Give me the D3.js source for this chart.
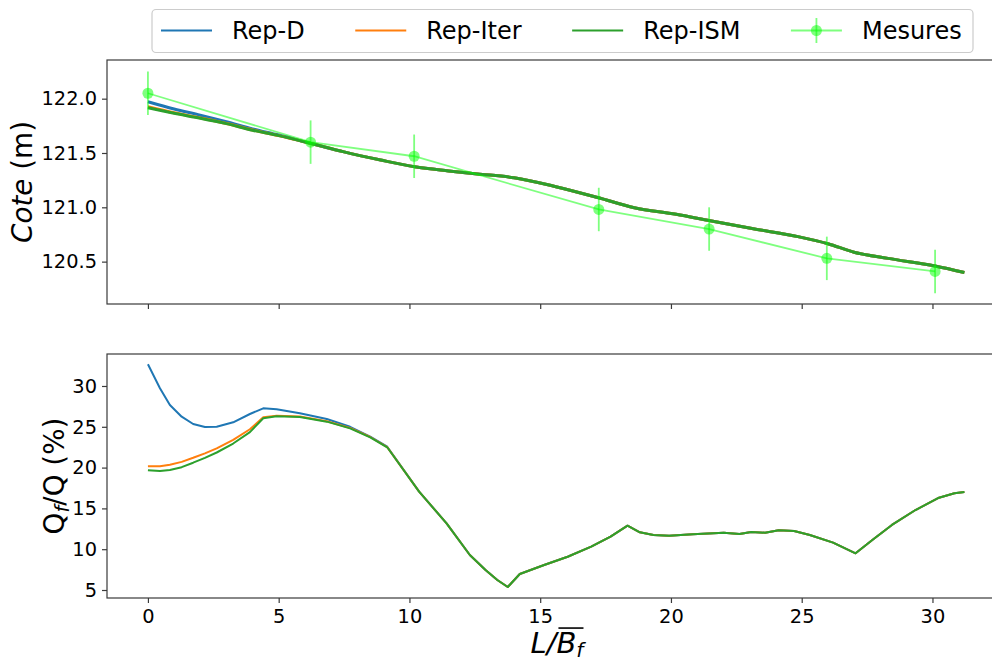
<!DOCTYPE html>
<html>
<head>
<meta charset="utf-8">
<title>Cote et Qf/Q</title>
<style>
  body { margin: 0; background: #fff; }
  svg { display: block; font-family: "DejaVu Sans", sans-serif; }
</style>
</head>
<body>
<svg width="992" height="662"></svg>
<script src="https://d3js.org/d3.v7.min.js"></script>
<script>

// mesures (cote + barre d'erreur)
mesX = [0, 6.22, 10.18, 17.24, 21.46, 25.96, 30.1]
mesCote = [122.05, 121.60, 121.47, 120.98, 120.80, 120.53, 120.41]
mesErr = [0.2, 0.2, 0.2, 0.2, 0.2, 0.2, 0.2]

// cote des modeles
xCote = [0, 1, 2, 3, 4, 5, 6.2, 7.5, 8.9, 10.2, 11.5, 12.6, 14, 15.6, 17.2, 18.6, 20.2, 21.5, 23.1, 24.9, 26, 27, 28.3, 30.1, 31.22]
coteD = [121.972, 121.905, 121.848, 121.787, 121.722, 121.665, 121.59, 121.51, 121.435, 121.373, 121.335, 121.307, 121.272, 121.19, 121.09, 120.996, 120.936, 120.876, 120.805, 120.728, 120.665, 120.587, 120.53, 120.46, 120.40]
coteIter = [121.925, 121.87, 121.823, 121.772, 121.712, 121.66, 121.59, 121.51, 121.435, 121.373, 121.335, 121.307, 121.272, 121.19, 121.09, 120.996, 120.936, 120.876, 120.805, 120.728, 120.665, 120.587, 120.53, 120.46, 120.40]
coteISM = [121.917, 121.865, 121.82, 121.77, 121.71, 121.66, 121.59, 121.51, 121.435, 121.373, 121.335, 121.307, 121.272, 121.19, 121.09, 120.996, 120.936, 120.876, 120.805, 120.728, 120.665, 120.587, 120.53, 120.46, 120.40]

// Qf/Q (%)
xQ = [0, 0.46, 0.84, 1.29, 1.73, 2.18, 2.63, 3.26, 3.9, 4.41, 4.92, 5.81, 6.84, 7.73, 8.5, 9.15, 10.37, 11.42, 12.31, 12.91, 13.36, 13.76, 14.22, 15.15, 16.05, 16.95, 17.69, 18.34, 18.81, 19.33, 19.93, 20.83, 22.02, 22.62, 23.07, 23.6, 24.12, 24.71, 25.31, 26.2, 27.06, 27.7, 28.45, 29.35, 30.25, 30.84, 31.22]
qD = [32.66, 29.72, 27.67, 26.24, 25.34, 24.98, 25.0, 25.55, 26.57, 27.26, 27.14, 26.65, 25.96, 25.0, 23.8, 22.56, 17.05, 13.17, 9.29, 7.45, 6.23, 5.37, 6.96, 8.06, 9.08, 10.31, 11.53, 12.88, 12.07, 11.74, 11.66, 11.83, 12.02, 11.86, 12.11, 12.02, 12.31, 12.23, 11.74, 10.8, 9.5, 11.13, 12.97, 14.8, 16.31, 16.85, 17.0]
qIter = [20.16, 20.17, 20.35, 20.7, 21.2, 21.75, 22.35, 23.4, 24.7, 26.17, 26.36, 26.25, 25.68, 24.86, 23.75, 22.5, 17.05, 13.17, 9.29, 7.45, 6.23, 5.37, 6.96, 8.06, 9.08, 10.31, 11.53, 12.88, 12.07, 11.74, 11.66, 11.83, 12.02, 11.86, 12.11, 12.02, 12.31, 12.23, 11.74, 10.8, 9.5, 11.13, 12.97, 14.8, 16.31, 16.85, 17.0]
qISM = [19.67, 19.57, 19.7, 20.05, 20.6, 21.2, 21.85, 22.95, 24.35, 26.05, 26.28, 26.2, 25.63, 24.81, 23.7, 22.49, 17.05, 13.17, 9.29, 7.45, 6.23, 5.37, 6.96, 8.06, 9.08, 10.31, 11.53, 12.88, 12.07, 11.74, 11.66, 11.83, 12.02, 11.86, 12.11, 12.02, 12.31, 12.23, 11.74, 10.8, 9.5, 11.13, 12.97, 14.8, 16.31, 16.85, 17.0]

xTicks = [0, 5, 10, 15, 20, 25, 30]
coteTicks = [120.5, 121.0, 121.5, 122.0]
qTicks = [5, 10, 15, 20, 25, 30]

seriesNames = ["Rep-D", "Rep-Iter", "Rep-ISM", "Mesures"]
colors = ["#1f77b4", "#ff7f0e", "#2ca02c", "#00ff00"]

spineColor = "#3a3a3a"
tickFont = 19.4

svg = d3.select("svg")

x = d3.scaleLinear().domain([-1.565, 32.85]).range([107, 1007])
yTop = d3.scaleLinear().domain([120.11, 122.356]).range([304, 60])
yBot = d3.scaleLinear().domain([4.02, 33.92]).range([598, 354])

function frame(y) {
  const [b, t] = y.range()
  svg.append("rect")
    .attr("x", x.range()[0]).attr("y", t)
    .attr("width", x.range()[1] - x.range()[0]).attr("height", b - t)
    .attr("fill", "none").attr("stroke", spineColor).attr("stroke-width", 1.2)
}

function axes(y, yTicks, fmt, showX) {
  const gx = svg.append("g")
    .attr("transform", `translate(0,${y.range()[0]})`)
    .call(d3.axisBottom(x).tickValues(xTicks).tickSize(5).tickPadding(6)
      .tickFormat(showX ? d3.format("d") : () => ""))
  const gy = svg.append("g")
    .attr("transform", `translate(${x.range()[0]},0)`)
    .call(d3.axisLeft(y).tickValues(yTicks).tickSize(5).tickPadding(5).tickFormat(fmt))
  for (const g of [gx, gy]) {
    g.select(".domain").remove()
    g.selectAll(".tick line").attr("stroke", spineColor).attr("stroke-width", 1.2)
    g.selectAll(".tick text").attr("fill", "#000")
      .attr("font-family", "DejaVu Sans").attr("font-size", tickFont)
  }
}

// ---- panneau du haut : cote ----
axes(yTop, coteTicks, d3.format(".1f"), false)

lineTop = d3.line().curve(d3.curveMonotoneX).x(d => x(d[0])).y(d => yTop(d[1]))
;[coteD, coteIter, coteISM].forEach((vals, i) => {
  svg.append("path")
    .datum(xCote.map((v, j) => [v, vals[j]]))
    .attr("fill", "none").attr("stroke", colors[i]).attr("stroke-width", 3)
    .attr("d", lineTop)
})

mes = mesX.map((v, i) => ({x: v, y: mesCote[i], e: mesErr[i]}))
gMes = svg.append("g").attr("opacity", 0.5)
gMes.append("path")
  .datum(mes)
  .attr("fill", "none").attr("stroke", colors[3]).attr("stroke-width", 1.8)
  .attr("d", d3.line().x(d => x(d.x)).y(d => yTop(d.y)))
svg.selectAll(".err").data(mes).join("line")
  .attr("class", "err")
  .attr("x1", d => x(d.x)).attr("x2", d => x(d.x))
  .attr("y1", d => yTop(d.y - d.e)).attr("y2", d => yTop(d.y + d.e))
  .attr("stroke", colors[3]).attr("stroke-width", 1.8).attr("opacity", 0.5)
svg.selectAll(".pt").data(mes).join("circle")
  .attr("class", "pt")
  .attr("cx", d => x(d.x)).attr("cy", d => yTop(d.y)).attr("r", 5.5)
  .attr("fill", colors[3]).attr("opacity", 0.5)

frame(yTop)

// ---- panneau du bas : Qf/Q ----
axes(yBot, qTicks, d3.format("d"), true)

lineBot = d3.line().x(d => x(d[0])).y(d => yBot(d[1]))
;[qD, qIter, qISM].forEach((vals, i) => {
  svg.append("path")
    .datum(xQ.map((v, j) => [v, vals[j]]))
    .attr("fill", "none").attr("stroke", colors[i]).attr("stroke-width", 2)
    .attr("stroke-linejoin", "round")
    .attr("d", lineBot)
})

frame(yBot)

// ---- titres des axes ----
labFont = 27.8
svg.append("text")
  .attr("transform", `translate(32,${(60 + 304) / 2}) rotate(-90)`)
  .attr("text-anchor", "middle").attr("font-size", labFont)
  .call(t => t.append("tspan").attr("font-style", "italic").text("Cote"))
  .call(t => t.append("tspan").text(" (m)"))

svg.append("text")
  .attr("transform", `translate(64,${(354 + 598) / 2}) rotate(-90)`)
  .attr("text-anchor", "middle").attr("font-size", labFont)
  .call(t => t.append("tspan").text("Q"))
  .call(t => t.append("tspan").attr("font-style", "italic").attr("font-size", labFont * 0.7).attr("dy", 5).text("f"))
  .call(t => t.append("tspan").attr("dy", -5).text("/Q (%)"))

xFont = 29
xBase = 653
xlab = svg.append("text")
  .attr("x", (107 + 1007) / 2).attr("y", xBase)
  .attr("text-anchor", "middle").attr("font-size", xFont).attr("font-style", "italic")
xlab.append("tspan").text("L/B")
xlab.append("tspan").attr("font-size", xFont * 0.7).attr("dy", 4).text("f")
eB = xlab.node().getExtentOfChar(2)
eF = xlab.node().getExtentOfChar(3)
svg.append("line")
  .attr("x1", eB.x + 2).attr("x2", eF.x + eF.width)
  .attr("y1", xBase - xFont * 0.86).attr("y2", xBase - xFont * 0.86)
  .attr("stroke", "#000").attr("stroke-width", 1.6)

// ---- legende ----
legFont = 24
leg = svg.append("g")
legBox = leg.append("rect")
  .attr("x", 152).attr("y", 9.5).attr("width", 821).attr("height", 43)
  .attr("rx", 4).attr("fill", "#fff").attr("fill-opacity", 0.8)
  .attr("stroke", "#cccccc").attr("stroke-width", 1.2)
legY = 30.5
lx = 161
seriesNames.forEach((name, i) => {
  const g = leg.append("g")
  if (i < 3) {
    g.append("line").attr("x1", lx).attr("x2", lx + 51).attr("y1", legY).attr("y2", legY)
      .attr("stroke", colors[i]).attr("stroke-width", 2.2)
  } else {
    const gm = g.append("g").attr("opacity", 0.5)
    gm.append("line").attr("x1", lx).attr("x2", lx + 51).attr("y1", legY).attr("y2", legY)
      .attr("stroke", colors[i]).attr("stroke-width", 1.8)
    g.append("line").attr("x1", lx + 25.5).attr("x2", lx + 25.5).attr("y1", legY - 12.5).attr("y2", legY + 12.5)
      .attr("stroke", colors[i]).attr("stroke-width", 1.8).attr("opacity", 0.5)
    g.append("circle").attr("cx", lx + 25.5).attr("cy", legY).attr("r", 5.5)
      .attr("fill", colors[i]).attr("opacity", 0.5)
  }
  const t = g.append("text").attr("x", lx + 71).attr("y", legY).attr("dy", "0.36em")
    .attr("font-size", legFont).text(name)
  lx = lx + 71 + t.node().getComputedTextLength() + 50.5
})

</script>
</body>
</html>
